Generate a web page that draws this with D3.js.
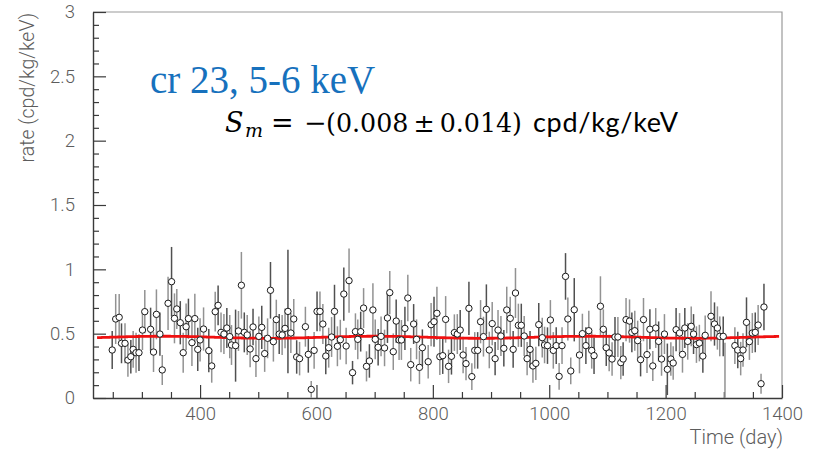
<!DOCTYPE html>
<html>
<head>
<meta charset="utf-8">
<script src="https://cdn.jsdelivr.net/npm/d3@7"></script>
<style>
  body { margin: 0; background: #fff; }
  svg { display: block; }
</style>
</head>
<body>
<svg id="chart" width="816" height="451"></svg>
<script>
// Rate per time bin (crystal 23, 5-6 keV window)
const days = [
  249,255,261,265,271,276,281,285,290,295,301,305,315,320,325,331,335,345,351,356,
  360,366,371,376,380,386,391,396,400,406,415,420,426,431,436,441,446,451,454,
  461,466,471,476,481,486,491,496,501,506,511,516,521,526,531,536,541,546,551,556,
  561,566,571,581,586,591,596,601,606,611,616,621,626,631,636,641,647,651,656,662,
  667,671,676,681,686,691,
  697,701,706,711,717,722,726,732,737,742,746,752,757,762,767,772,777,782,792,797,
  802,807,812,817,822,827,832,837,842,847,852,857,862,867,872,877,882,887,892,897,
  902,907,912,917,922,927,
  933,938,942,947,952,957,962,967,972,977,982,988,992,997,1002,1007,1012,1017,1022,1028,
  1032,1037,1043,1052,1057,1063,1068,1073,1077,1088,1093,1098,1103,1108,1113,1118,1123,1127,1132,1138,
  1142,1147,1152,1157,1162,
  1168,1173,1178,1183,1188,1193,1198,1203,1209,1213,1218,1224,1229,1233,1238,1244,1248,1253,1258,1264,
  1268,1278,1284,1289,1293,1299,1302,1319,1324,1329,1333,1339,1344,1349,1354,1359,1364,1369
];
const rates = [
  0.373,0.614,0.627,0.425,0.425,0.295,0.321,0.378,0.352,0.352,0.528,0.671,0.534,0.357,0.650,0.497,0.218,0.736,0.904,0.619,
  0.692,0.585,0.352,0.554,0.617,0.430,0.617,0.378,0.451,0.536,0.368,0.249,0.671,0.720,0.510,0.497,0.544,0.477,0.412,
  0.407,0.521,0.876,0.510,0.490,0.381,0.552,0.306,0.479,0.549,0.345,0.464,0.837,0.438,0.609,0.497,0.490,0.541,0.673,0.505,
  0.614,0.319,0.306,0.554,0.339,0.067,0.370,0.673,0.673,0.575,0.326,0.391,0.474,0.673,0.402,0.453,0.808,0.404,0.912,0.197,
  0.516,0.456,0.516,0.699,0.246,0.288,
  0.684,0.456,0.394,0.479,0.389,0.622,0.819,0.360,0.598,0.451,0.451,0.541,0.777,0.259,0.575,0.456,0.238,0.391,0.282,0.570,
  0.593,0.658,0.321,0.329,0.611,0.246,0.324,0.508,0.497,0.528,0.334,0.267,0.697,0.166,0.370,0.370,0.593,0.477,0.689,0.373,
  0.578,0.306,0.528,0.482,0.386,0.684,
  0.619,0.378,0.816,0.565,0.565,0.482,0.306,0.378,0.249,0.269,0.570,0.469,0.412,0.407,0.606,0.370,0.407,0.168,0.407,0.945,
  0.614,0.210,0.686,0.334,0.500,0.407,0.523,0.370,0.329,0.713,0.534,0.391,0.350,0.303,0.474,0.474,0.275,0.303,0.609,0.598,
  0.510,0.523,0.446,0.298,0.609,
  0.337,0.534,0.249,0.544,0.440,0.303,0.497,0.223,0.303,0.272,0.531,0.505,0.339,0.544,0.440,0.557,0.497,0.415,0.427,0.326,
  0.487,0.635,0.575,0.544,0.479,0.479,-0.050,0.407,0.373,0.306,0.373,0.588,0.438,0.505,0.510,0.567,0.111,0.707
];
const errors = [
  0.148,0.194,0.181,0.155,0.155,0.130,0.130,0.142,0.155,0.142,0.155,0.168,0.168,0.155,0.194,0.168,0.117,0.207,0.270,0.194,
  0.155,0.168,0.155,0.181,0.155,0.181,0.194,0.168,0.168,0.168,0.168,0.130,0.155,0.155,0.155,0.155,0.155,0.168,0.155,
  0.280,0.155,0.259,0.155,0.155,0.142,0.142,0.142,0.155,0.168,0.142,0.155,0.220,0.155,0.155,0.155,0.155,0.155,0.480,0.155,
  0.155,0.130,0.130,0.155,0.142,0.065,0.142,0.155,0.155,0.155,0.142,0.155,0.155,0.207,0.155,0.155,0.207,0.142,0.250,0.091,
  0.142,0.155,0.155,0.155,0.117,0.130,
  0.207,0.155,0.142,0.155,0.142,0.194,0.168,0.142,0.168,0.155,0.155,0.168,0.181,0.130,0.155,0.155,0.130,0.142,0.130,0.168,
  0.194,0.207,0.142,0.142,0.181,0.130,0.142,0.142,0.155,0.155,0.142,0.130,0.207,0.104,0.142,0.142,0.168,0.155,0.194,0.142,
  0.168,0.130,0.155,0.155,0.142,0.181,
  0.168,0.142,0.194,0.168,0.168,0.155,0.130,0.142,0.130,0.130,0.168,0.155,0.142,0.142,0.155,0.142,0.142,0.104,0.142,0.181,
  0.168,0.104,0.246,0.142,0.155,0.142,0.155,0.142,0.142,0.233,0.155,0.142,0.142,0.130,0.155,0.155,0.130,0.130,0.168,0.168,
  0.155,0.155,0.155,0.130,0.168,
  0.142,0.155,0.117,0.155,0.155,0.130,0.155,0.200,0.130,0.130,0.168,0.155,0.142,0.155,0.142,0.155,0.155,0.142,0.142,0.130,
  0.155,0.194,0.168,0.168,0.155,0.155,0.480,0.142,0.142,0.130,0.130,0.194,0.142,0.155,0.155,0.155,0.078,0.181
];

const yTickValues = [0, 0.5, 1, 1.5, 2, 2.5, 3];
const yTickLabels = ["0", "0.5", "1", "1.5", "2", "2.5", "3"];
const xTickValues = [400, 600, 800, 1000, 1200, 1400];
const xTickLabels = ["400", "600", "800", "1000", "1200", "1400"];

// Fitted modulation: A + Sm * cos(2*pi*(t - t0)/T)
const fitBaseline = 0.472;
const fitSm = -0.008;
const fitSmErr = 0.014;
const fitPhase = 152.5;
const fitPeriod = 365.25;
const fitRange = [223, 1395];

const titleText = "cr 23, 5-6 keV";
const xTitle = "Time (day)";
const yTitle = "rate (cpd/kg/keV)";

const svg = d3.select("#chart");
const plotLeft = 93, plotRight = 782, plotTop = 12, plotBottom = 398;

const x = d3.scaleLinear().domain([216, 1400]).range([plotLeft, plotRight]);
const y = d3.scaleLinear().domain([0, 3]).range([plotBottom, plotTop]);

const axisFont = "Roboto, 'Liberation Sans', sans-serif";
const axisColor = "#3a3a3a";
const labelColor = "#5c5c5c";

// frame (top and right in light grey)
svg.append("path")
  .attr("d", `M${plotLeft},${plotTop}H${plotRight}V${plotBottom}`)
  .attr("fill", "none").attr("stroke", "#9a9a9a").attr("stroke-width", 1.2);

svg.append("defs").append("clipPath").attr("id", "plotClip")
  .append("rect").attr("x", plotLeft).attr("y", plotTop)
  .attr("width", plotRight - plotLeft).attr("height", plotBottom - plotTop);

// y axis: major + minor inward ticks
const yMinor = d3.range(0, 3.0001, 0.1).filter(v => Math.abs(v * 2 - Math.round(v * 2)) > 1e-6);
svg.append("g").attr("transform", `translate(${plotLeft},0)`)
  .call(d3.axisLeft(y).tickValues(yMinor).tickFormat("").tickSize(-6).tickSizeOuter(0))
  .call(g => g.select(".domain").remove())
  .call(g => g.selectAll("line").attr("stroke", axisColor).attr("stroke-width", 1.2));
const gy = svg.append("g").attr("transform", `translate(${plotLeft},0)`)
  .call(d3.axisLeft(y).tickValues(yTickValues).tickFormat((d, i) => yTickLabels[i])
    .tickSize(-13).tickSizeOuter(0).tickPadding(18));
gy.select(".domain").attr("stroke", axisColor).attr("stroke-width", 1.4);
gy.selectAll("line").attr("stroke", axisColor).attr("stroke-width", 1.2);
gy.selectAll("text").attr("font-family", axisFont).attr("font-weight", 300)
  .attr("font-size", 18.5).attr("fill", labelColor);

// x axis: major + minor inward ticks
const xMinor = d3.range(250, 1400, 50).filter(v => v % 200 !== 0);
svg.append("g").attr("transform", `translate(0,${plotBottom})`)
  .call(d3.axisBottom(x).tickValues(xMinor).tickFormat("").tickSize(-6).tickSizeOuter(0))
  .call(g => g.select(".domain").remove())
  .call(g => g.selectAll("line").attr("stroke", axisColor).attr("stroke-width", 1.2));
const gx = svg.append("g").attr("transform", `translate(0,${plotBottom})`)
  .call(d3.axisBottom(x).tickValues(xTickValues).tickFormat((d, i) => xTickLabels[i])
    .tickSize(-13).tickSizeOuter(0).tickPadding(9));
gx.select(".domain").attr("stroke", axisColor).attr("stroke-width", 1.4);
gx.selectAll("line").attr("stroke", axisColor).attr("stroke-width", 1.2);
gx.selectAll("text").attr("font-family", axisFont).attr("font-weight", 300)
  .attr("font-size", 18.5).attr("fill", labelColor);

// axis titles
svg.append("text")
  .attr("transform", `translate(34,${plotTop + 1}) rotate(-90)`)
  .attr("text-anchor", "end")
  .attr("font-family", axisFont).attr("font-weight", 300).attr("font-size", 19.5)
  .attr("fill", labelColor).text(yTitle);
svg.append("text")
  .attr("x", plotRight + 1).attr("y", 444).attr("text-anchor", "end")
  .attr("font-family", axisFont).attr("font-weight", 300).attr("font-size", 20)
  .attr("fill", labelColor).text(xTitle);

// data
const pts = days.map((d, i) => ({ t: d, r: rates[i], e: errors[i] }));
const plot = svg.append("g").attr("clip-path", "url(#plotClip)");

plot.append("g").selectAll("line").data(pts).join("line")
  .attr("x1", d => x(d.t)).attr("x2", d => x(d.t))
  .attr("y1", d => y(d.r - d.e)).attr("y2", d => y(d.r + d.e))
  .attr("stroke", (d, i) => i % 3 === 0 ? "#505050" : "#929292")
  .attr("stroke-width", 1.5);

// fit curve
const fitDays = d3.range(fitRange[0], fitRange[1] + 1, 2);
const fitLine = d3.line()
  .x(t => x(t))
  .y(t => y(fitBaseline + fitSm * Math.cos(2 * Math.PI * (t - fitPhase) / fitPeriod)));
plot.append("path").datum(fitDays).attr("d", fitLine)
  .attr("fill", "none").attr("stroke", "#f01010").attr("stroke-width", 2.8);

plot.append("g").selectAll("circle").data(pts).join("circle")
  .attr("cx", d => x(d.t)).attr("cy", d => y(d.r)).attr("r", 3.2)
  .attr("fill", "#fff").attr("stroke", "#1a1a1a").attr("stroke-width", 1);

// annotations
svg.append("text")
  .attr("x", 150).attr("y", 93)
  .attr("font-family", "'Liberation Serif', 'Times New Roman', serif")
  .attr("font-size", 39).attr("fill", "#1771bd")
  .text(titleText);

const mathFont = "'DejaVu Serif', 'Liberation Serif', serif";
const formula = svg.append("g").attr("font-family", mathFont).attr("fill", "#000");
const baseY = 132;
formula.append("text").attr("x", 225).attr("y", baseY).attr("font-size", 27)
  .attr("font-style", "italic").text("S");
formula.append("text").attr("x", 245).attr("y", baseY + 5).attr("font-size", 19)
  .attr("font-style", "italic").text("m");
formula.append("text").attr("x", 271).attr("y", baseY).attr("font-size", 27).text("=");
formula.append("text").attr("x", 304).attr("y", baseY).attr("font-size", 27).text("\u2212");
formula.append("text").attr("x", 326).attr("y", baseY).attr("font-size", 26)
  .attr("textLength", 196).attr("lengthAdjust", "spacingAndGlyphs")
  .text(`(${Math.abs(fitSm).toFixed(3)}\u2009\u00B1\u2009${fitSmErr.toFixed(3)})`);
formula.append("text").attr("x", 533).attr("y", baseY)
  .attr("font-family", "Lato, 'Open Sans', sans-serif").attr("font-size", 27)
  .attr("textLength", 145).text("cpd/kg/keV");
</script>
</body>
</html>
